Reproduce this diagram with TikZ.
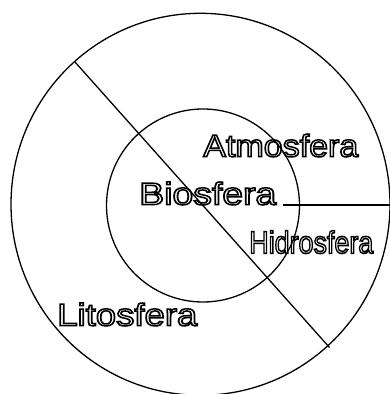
\documentclass[tikz,border=0pt]{standalone}
\usepackage{fontspec}
\setmainfont{Liberation Sans}
\usepackage{graphicx}
\newcommand{\outlinetext}[1]{\special{pdf:literal direct 1 Tr 1.5 w}#1\special{pdf:literal direct 0 Tr}}
\begin{document}
\begin{tikzpicture}[x=1pt,y=1pt,
  ring/.style={draw=black, line width=1.3pt},
  lbl/.style={anchor=base west, inner sep=0pt, outer sep=0pt, text=black,
    font=\fontsize{31.4}{31.4}\selectfont}]
\useasboundingbox (0,0) rectangle (390,394);
% labels (outlined text)
\node[lbl] (atm) at (203.3,237.3) {\resizebox{155pt}{\height}{\outlinetext{Atmosfera}}};
\node[lbl] (bio) at (139.3,189.3) {\resizebox{137pt}{\height}{\outlinetext{Biosfera}}};
\node[lbl] (hid) at (249.3,140.7) {\resizebox{124pt}{\height}{\outlinetext{Hidrosfera}}};
\node[lbl] (lit) at (57.3,68.3) {\resizebox{140pt}{\height}{\outlinetext{Litosfera}}};
% circles
\coordinate (oc) at (200.5,189.7);
\coordinate (ic) at (203,188.5);
\draw[ring] (oc) ellipse [x radius=189.5, y radius=191];
\draw[ring] (ic) circle [radius=96.5];
% dividing lines
\coordinate (d1) at (75,332);
\coordinate (d2) at (329.5,46.5);
\coordinate (h1) at (282.5,189);
\coordinate (h2) at (391,189);
\draw[ring] (d1) -- (d2);
\draw[ring] (h1) -- (h2);
\end{tikzpicture}
\end{document}
